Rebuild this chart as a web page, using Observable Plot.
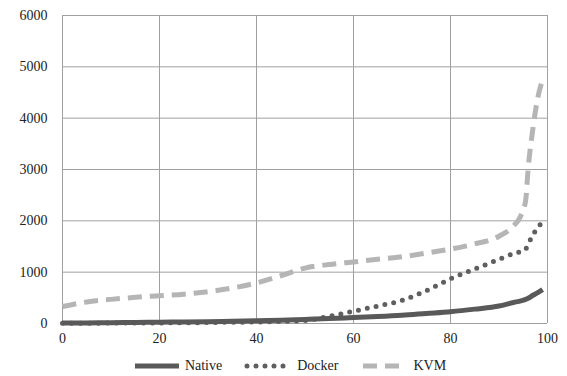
<!DOCTYPE html>
<html><head><meta charset="utf-8">
<script src="https://cdn.jsdelivr.net/npm/d3@7"></script>
<script src="https://cdn.jsdelivr.net/npm/@observablehq/plot@0.6"></script>
</head><body style="margin:0;background:#fff;font-family:'Times New Roman','Liberation Serif',serif;font-size:14px">
<div id="chart"></div>
<div id="legend" style="display:flex;justify-content:center;align-items:center;height:22px;margin-top:3px;font-size:14px;color:#222;margin-left:100px;width:400px;font-family:'Times New Roman','Liberation Serif',serif"></div>
<script>
const percentiles = [0,5,10,15,20,25,30,35,40,45,50,55,60,65,70,75,80,85,90,93,94.5,95.5,96,97,98,99];
const native = [10,12,15,20,25,30,35,45,55,65,80,95,115,135,160,195,230,280,340,410,440,470,490,550,600,660];
const docker = [5,6,8,10,12,14,18,24,30,40,60,140,240,340,450,640,870,1060,1250,1360,1400,1450,1550,1720,1880,1950];
const kvm = [330,420,470,510,540,570,620,690,790,930,1080,1150,1200,1250,1300,1370,1450,1550,1700,1900,2100,2400,3000,3800,4400,4750];
const seriesNames = ["Native","Docker","KVM"];
const xTicks = [0,20,40,60,80,100];
const yTicks = [0,1000,2000,3000,4000,5000,6000];

const rows = [];
percentiles.forEach((p,i)=>{
  rows.push({x:p,y:native[i],s:"Native"});
  rows.push({x:p,y:docker[i],s:"Docker"});
  rows.push({x:p,y:kvm[i],s:"KVM"});
});
const styles = {
  Native:{stroke:"#595959",dash:null,cap:"butt"},
  Docker:{stroke:"#5f5f5f",dash:"0 9",cap:"round"},
  KVM:{stroke:"#b5b5b5",dash:"14 8",cap:"butt"}
};
const lineMarks = seriesNames.slice().reverse().map(s=>Plot.line(rows.filter(r=>r.s===s),{
  x:"x",y:"y",stroke:styles[s].stroke,strokeWidth:5,strokeDasharray:styles[s].dash,
  strokeLinecap:styles[s].cap,curve:"monotone-x"
}));
const fmt = d => String(d);
const FF = "'Times New Roman', 'Liberation Serif', serif";
const chart = Plot.plot({
  width:567,height:352,
  marginLeft:62,marginRight:20,marginTop:15,marginBottom:29,
  style:{fontFamily:FF,fontSize:"14px",color:"#222",background:"#fff"},
  x:{domain:[0,100],ticks:xTicks,label:null},
  y:{domain:[0,6000],ticks:yTicks,label:null},
  marks:[
    Plot.gridX(xTicks,{stroke:"#a0a0a0",strokeOpacity:1}),
    Plot.gridY(yTicks,{stroke:"#a0a0a0",strokeOpacity:1}),
    Plot.axisX({ticks:xTicks,tickSize:0,tickPadding:10,fontSize:14,fontFamily:FF,tickFormat:fmt}),
    Plot.axisY({ticks:yTicks,tickSize:0,tickPadding:15,fontSize:14,fontFamily:FF,tickFormat:fmt}),
    ...lineMarks
  ]
});
chart.querySelectorAll("text").forEach(t=>{t.setAttribute("font-family",FF);t.style.fontFamily=FF;});
document.getElementById("chart").appendChild(chart);

const leg = document.getElementById("legend");
seriesNames.forEach(s=>{
  const st = styles[s];
  const span = document.createElement("span");
  span.style.cssText = "display:inline-flex;align-items:center;margin-right:22px;font-family:" + FF;
  span.innerHTML = `<svg width="50" height="10" style="margin-right:3px"><line x1="3" y1="5" x2="47" y2="5" stroke="${st.stroke}" stroke-width="5" ${st.dash?`stroke-dasharray="${st.dash}"`:""} stroke-linecap="${st.cap}"/></svg>${s}`;
  leg.appendChild(span);
});
</script>
</body></html>
